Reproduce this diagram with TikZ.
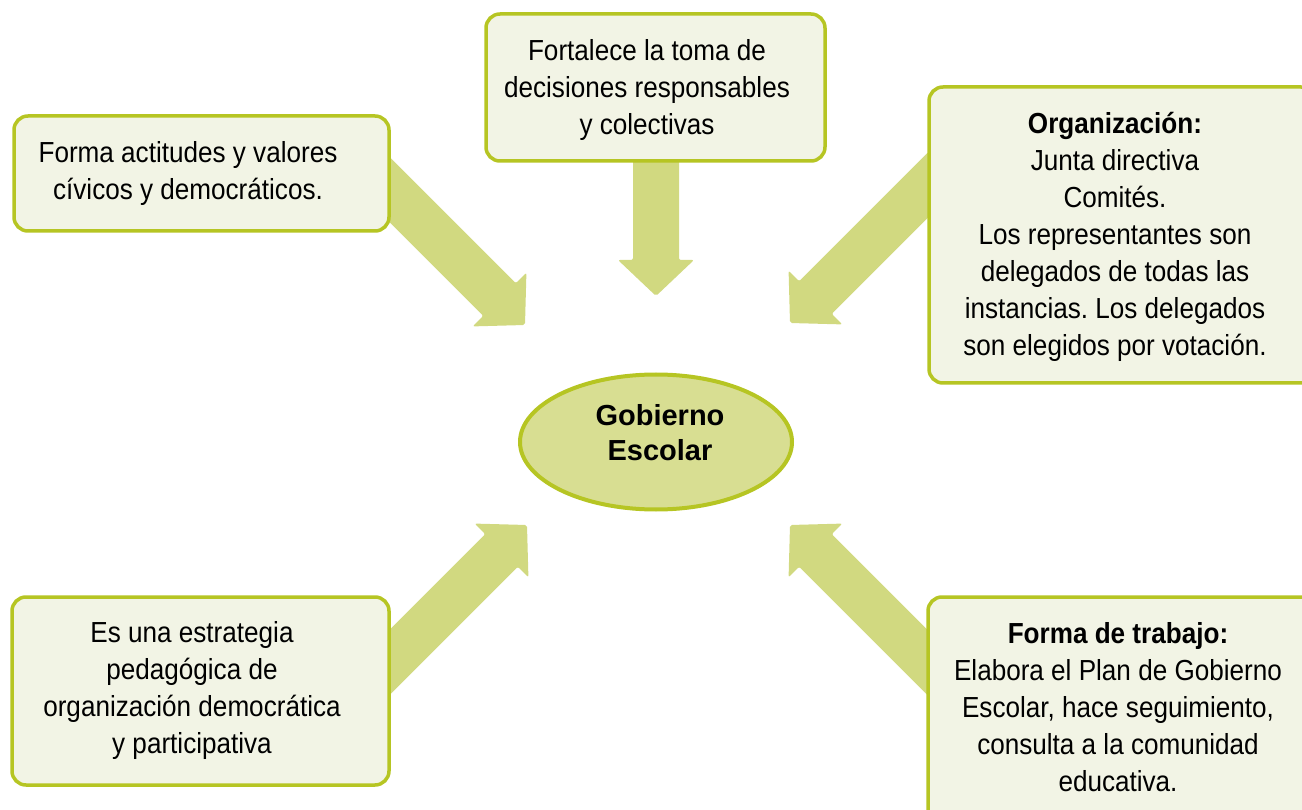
\documentclass[tikz,border=0pt]{standalone}
\usepackage{fontspec}
\setmainfont{Liberation Sans}[FakeStretch=0.9]
\newfontfamily\gobfont{Liberation Sans}
\usetikzlibrary{calc}
\definecolor{borderc}{RGB}{182,197,35}
\definecolor{boxfill}{RGB}{242,244,229}
\definecolor{arrowc}{RGB}{209,217,128}
\definecolor{ellfill}{RGB}{216,222,146}
\tikzset{
  boxstyle/.style={draw=borderc, fill=boxfill, line width=3.5pt, rounded corners=14pt},
  ellstyle/.style={draw=borderc, fill=ellfill, line width=4pt},
  txt/.style={anchor=north, inner sep=0pt, align=center, font=\frenchspacing\fontsize{29}{37}\selectfont},
  gobtxt/.style={anchor=north, inner sep=0pt, align=center, font=\gobfont\bfseries\fontsize{29}{35}\selectfont},
  blockfill/.style={fill=arrowc, rounded corners=2pt}
}
\newcommand{\blockarr}[2]{%
  \coordinate (#1-h) at ($(#2)!36pt!(#1)$);
  \fill[blockfill] ($(#1)!23pt!90:(#2)$) -- ($(#1-h)!23pt!90:(#2)$)
    -- ($(#1-h)!38pt!90:(#2)$) -- (#2) -- ($(#1-h)!38pt!-90:(#2)$)
    -- ($(#1-h)!23pt!-90:(#2)$) -- ($(#1)!23pt!-90:(#2)$) -- cycle;
}
\begin{document}
\begin{tikzpicture}[x=1pt,y=-1pt]
\useasboundingbox (0,0) rectangle (1302,810);
\clip (0,0) rectangle (1302,810);

% arrows (behind boxes)
\coordinate (a1s) at (370,170);  \coordinate (a1e) at (525,325);
\coordinate (a2s) at (656,150);  \coordinate (a2e) at (656,296);
\coordinate (a3s) at (945,168);  \coordinate (a3e) at (790,323);
\coordinate (a4s) at (370,682);  \coordinate (a4e) at (527,525);
\coordinate (a5s) at (945,680);  \coordinate (a5e) at (790,525);
\blockarr{a1s}{a1e}
\blockarr{a2s}{a2e}
\blockarr{a3s}{a3e}
\blockarr{a4s}{a4e}
\blockarr{a5s}{a5e}

% boxes
\draw[boxstyle] (14,116) rectangle (389,231);
\draw[boxstyle] (486,14) rectangle (825,161);
\draw[boxstyle] (929,87) rectangle (1315,383);
\draw[boxstyle] (12,597) rectangle (389,785);
\draw[boxstyle] (928,597) rectangle (1315,830);

% central ellipse
\draw[ellstyle] (656,442) ellipse [x radius=136pt, y radius=67.5pt];
\node[gobtxt] (gob) at (660,400.5) {\strut Gobierno\\Escolar};

% texts
\node[txt] (t1) at (188,136.1) {\strut Forma actitudes y valores\\cívicos y democráticos.};
\node[txt] (t2) at (647,34.1) {\strut Fortalece la toma de\\decisiones responsables\\y colectivas};
\node[txt] (t3) at (1115,107.1) {\strut\textbf{Organización:}\\Junta directiva\\Comités.\\Los representantes son\\delegados de todas las\\instancias. Los delegados\\son elegidos por votación.};
\node[txt] (t4) at (192,616.1) {\strut Es una estrategia\\pedagógica de\\organización democrática\\y participativa};
\node[txt] (t5) at (1118,617.1) {\strut\textbf{Forma de trabajo:}\\Elabora el Plan de Gobierno\\Escolar, hace seguimiento,\\consulta a la comunidad\\educativa.};
\end{tikzpicture}
\end{document}
